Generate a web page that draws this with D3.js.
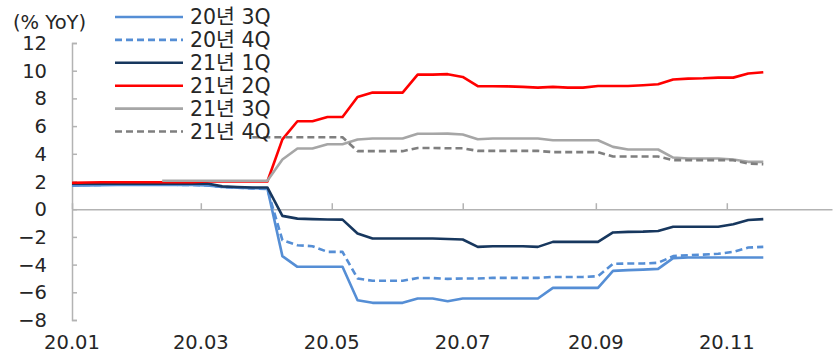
<!DOCTYPE html>
<html>
<head>
<meta charset="utf-8">
<script src="https://cdn.jsdelivr.net/npm/d3@7"></script>
<style>
  body { margin: 0; background: #fff; }
  svg { display: block; font-family: "DejaVu Sans", "Noto Sans CJK KR", sans-serif; }
</style>
</head>
<body>
<div id="chart"></div>
<script>
// weekly observation dates
const dates = [
  "2020-01-01","2020-01-08","2020-01-15","2020-01-22","2020-01-29",
  "2020-02-05","2020-02-12","2020-02-19","2020-02-26",
  "2020-03-04","2020-03-11","2020-03-18","2020-03-25",
  "2020-04-01","2020-04-08","2020-04-15","2020-04-22","2020-04-29",
  "2020-05-06","2020-05-13","2020-05-20","2020-05-27",
  "2020-06-03","2020-06-10","2020-06-17","2020-06-24",
  "2020-07-01","2020-07-08","2020-07-15","2020-07-22","2020-07-29",
  "2020-08-05","2020-08-12","2020-08-19","2020-08-26",
  "2020-09-02","2020-09-09","2020-09-16","2020-09-23","2020-09-30",
  "2020-10-07","2020-10-14","2020-10-21","2020-10-28",
  "2020-11-04","2020-11-11","2020-11-18"
];

const q20_3 = [1.7,1.72,1.74,1.75,1.75,1.75,1.75,1.75,1.75,1.72,1.6,1.55,1.52,1.5,
  -3.39,-4.16,-4.16,-4.16,-4.16,-6.57,-6.76,-6.76,-6.76,-6.45,-6.45,-6.64,-6.45,-6.45,-6.45,-6.45,-6.45,-6.45,
  -5.68,-5.68,-5.68,-5.68,-4.45,-4.4,-4.36,-4.31,-3.53,-3.49,-3.49,-3.49,-3.49,-3.49,-3.49];
const q20_4 = [1.75,1.75,1.76,1.76,1.76,1.76,1.76,1.76,1.75,1.72,1.6,1.55,1.5,1.45,
  -2.24,-2.6,-2.67,-3.08,-3.08,-5.0,-5.17,-5.17,-5.17,-4.97,-4.97,-5.03,-5.0,-5.0,-4.96,-4.96,-4.96,-4.96,
  -4.89,-4.89,-4.89,-4.84,-3.95,-3.92,-3.92,-3.87,-3.39,-3.32,-3.28,-3.22,-3.08,-2.77,-2.72];
const q21_1 = [1.85,1.85,1.85,1.85,1.85,1.85,1.85,1.85,1.85,1.85,1.65,1.6,1.57,1.57,
  -0.48,-0.68,-0.72,-0.74,-0.75,-1.76,-2.12,-2.12,-2.12,-2.12,-2.12,-2.15,-2.19,-2.72,-2.67,-2.67,-2.68,-2.72,
  -2.36,-2.36,-2.36,-2.36,-1.68,-1.64,-1.62,-1.57,-1.27,-1.27,-1.27,-1.27,-1.08,-0.78,-0.72];
const q21_2 = [1.9,1.93,1.95,1.95,1.95,1.95,1.95,1.95,1.95,2.0,2.0,2.0,2.0,2.0,
  5.04,6.35,6.35,6.66,6.66,8.1,8.42,8.42,8.42,9.72,9.72,9.75,9.55,8.88,8.88,8.87,8.83,8.78,
  8.83,8.78,8.78,8.9,8.9,8.9,8.95,9.02,9.36,9.43,9.45,9.5,9.5,9.8,9.89];
const q21_3 = [null,null,null,null,null,null,2.05,2.05,2.05,2.05,2.05,2.05,2.05,2.05,
  3.59,4.38,4.38,4.69,4.69,5.03,5.1,5.1,5.1,5.45,5.45,5.46,5.39,5.05,5.1,5.1,5.1,5.1,
  4.98,4.98,4.98,4.98,4.5,4.31,4.31,4.31,3.73,3.66,3.66,3.66,3.59,3.42,3.42];
const q21_4 = [null,null,null,null,null,null,null,null,null,null,null,null,5.2,5.2,
  5.2,5.2,5.2,5.2,5.2,4.19,4.19,4.19,4.19,4.42,4.42,4.4,4.4,4.21,4.21,4.21,4.21,4.21,
  4.12,4.12,4.12,4.12,3.8,3.8,3.8,3.8,3.54,3.54,3.54,3.54,3.54,3.3,3.25];

const seriesNames = ["20년 3Q","20년 4Q","21년 1Q","21년 2Q","21년 3Q","21년 4Q"];
const seriesValues = [q20_3, q20_4, q21_1, q21_2, q21_3, q21_4];
const seriesColors = ["#558ed5","#558ed5","#17375e","#ff0000","#a6a6a6","#7f7f7f"];
const seriesDash = [null, "7,4", null, null, null, "7,4"];
const yTicks = [-8,-6,-4,-2,0,2,4,6,8,10,12];

const width = 833, height = 354;
const parse = d3.timeParse("%Y-%m-%d");
const xDates = dates.map(parse);

const svg = d3.select("#chart").append("svg")
  .attr("width", width)
  .attr("height", height);

const x = d3.scaleTime()
  .domain([parse("2020-01-01"), parse("2020-12-20")])
  .range([72, 832]);

const y = d3.scaleLinear()
  .domain([-8, 12])
  .range([320, 43]);

const axisColor = "#b3b3b3";
const textColor = "#262626";

// y axis: line with ticks pointing inward
const yAxis = svg.append("g")
  .attr("transform", `translate(${x.range()[0]},0)`)
  .call(d3.axisRight(y).tickValues(yTicks).tickSize(5).tickFormat(""));
yAxis.select(".domain").attr("stroke", axisColor).attr("stroke-width", 1.5);
yAxis.selectAll(".tick line").attr("stroke", axisColor).attr("stroke-width", 1.5);

svg.append("g")
  .selectAll("text")
  .data(yTicks)
  .join("text")
  .attr("x", 47)
  .attr("y", d => y(d))
  .attr("dy", "0.36em")
  .attr("text-anchor", "end")
  .attr("font-size", 19.5)
  .attr("fill", textColor)
  .text(d => d < 0 ? "\u2212" + Math.abs(d) : d);

// x axis at zero, ticks pointing up
const xAxis = svg.append("g")
  .attr("transform", `translate(0,${y(0)})`)
  .call(d3.axisTop(x).ticks(d3.timeMonth.every(2)).tickSize(6).tickFormat("").tickSizeOuter(0));
xAxis.select(".domain").attr("stroke", axisColor).attr("stroke-width", 1.5);
xAxis.selectAll(".tick line").attr("stroke", axisColor).attr("stroke-width", 1.5);

svg.append("g")
  .selectAll("text")
  .data(x.ticks(d3.timeMonth.every(2)))
  .join("text")
  .attr("x", d => x(d))
  .attr("y", 349)
  .attr("text-anchor", "middle")
  .attr("font-size", 19.5)
  .attr("fill", textColor)
  .text(d3.timeFormat("%y.%m"));

svg.append("text")
  .attr("x", 13)
  .attr("y", 22)
  .attr("dy", "0.36em")
  .attr("font-size", 19.5)
  .attr("fill", textColor)
  .text("(% YoY)");

// lines
const line = d3.line()
  .defined(d => d.v !== null)
  .x(d => x(d.date))
  .y(d => y(d.v));

seriesValues.forEach((vals, k) => {
  svg.append("path")
    .datum(vals.map((v, i) => ({date: xDates[i], v: v})))
    .attr("fill", "none")
    .attr("stroke", seriesColors[k])
    .attr("stroke-width", 2.6)
    .attr("stroke-dasharray", seriesDash[k])
    .attr("stroke-linejoin", "round")
    .attr("d", line);
});

// legend
const legend = svg.append("g");
seriesNames.forEach((name, k) => {
  const ly = 17 + k * 22.9;
  legend.append("line")
    .attr("x1", 115).attr("x2", 183)
    .attr("y1", ly).attr("y2", ly)
    .attr("stroke", seriesColors[k])
    .attr("stroke-width", 2.6)
    .attr("stroke-dasharray", seriesDash[k]);
  legend.append("text")
    .attr("x", 190)
    .attr("y", ly)
    .attr("dy", "0.36em")
    .attr("font-size", 20.5)
    .attr("fill", textColor)
    .text(name);
});
</script>
</body>
</html>
